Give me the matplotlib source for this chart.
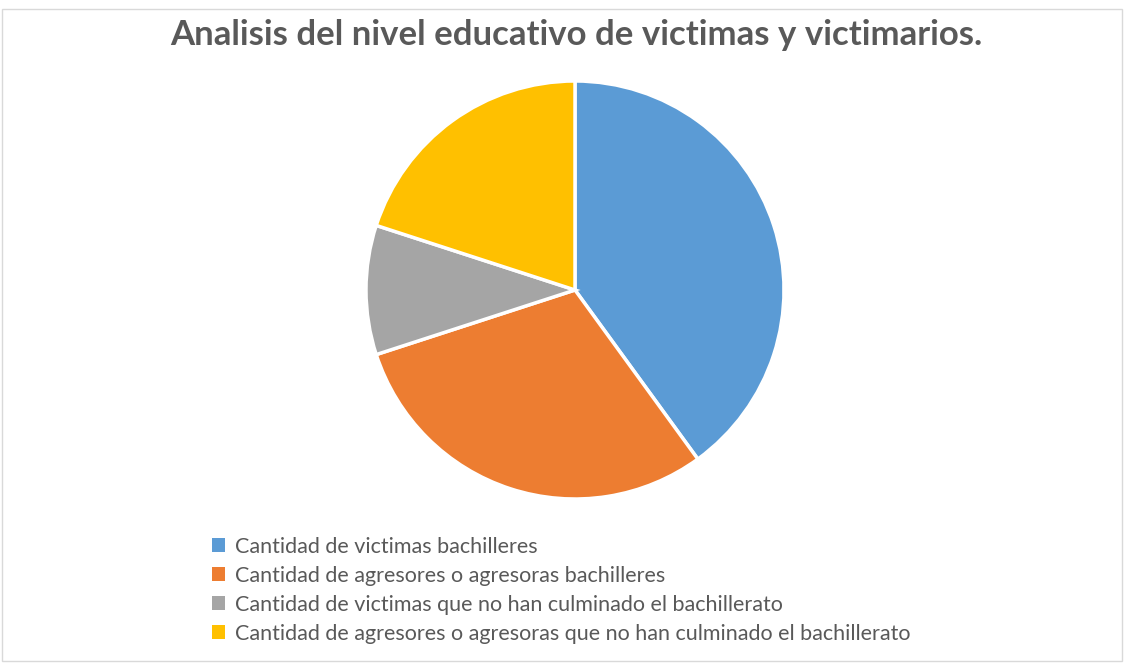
import matplotlib
matplotlib.use('Agg')
import matplotlib.pyplot as plt
from matplotlib.patches import Rectangle

categories = [
    'Cantidad de victimas bachilleres',
    'Cantidad de agresores o agresoras bachilleres',
    'Cantidad de victimas que no han culminado el bachillerato',
    'Cantidad de agresores o agresoras que no han culminado el bachillerato',
]
values = [40, 30, 10, 20]
colors = ['#5B9BD5', '#ED7D31', '#A5A5A5', '#FFC000']

plt.rcParams['font.family'] = ['Lato', 'DejaVu Sans']

W, H = 1130, 665
fig = plt.figure(figsize=(W / 100, H / 100), dpi=100)

# light frame of the chart area
fig.patches.append(Rectangle((2 / W, 4 / H), 1120 / W, 652 / H, transform=fig.transFigure,
                             fill=False, edgecolor='#d9d9d9', linewidth=1))

cx, cy, r = 575, 290, 209
ax = fig.add_axes([(cx - r) / W, 1 - (cy + r) / H, 2 * r / W, 2 * r / H])
ax.pie(values, colors=colors, startangle=90, counterclock=False,
       wedgeprops=dict(edgecolor='white', linewidth=2.5))
ax.set_xlim(-1, 1)
ax.set_ylim(-1, 1)
ax.set_aspect('auto')
ax.axis('off')

fig.text(576 / W, 1 - 35 / H, 'Analisis del nivel educativo de victimas y victimarios.',
         ha='center', va='center', fontsize=25, fontweight='bold', color='#595959')

handles = [Rectangle((0, 0), 1, 1, facecolor=c) for c in colors]
fig.legend(handles, categories, loc='upper left', bbox_to_anchor=(203 / W, 1 - 528 / H),
           frameon=False, fontsize=15.5, labelcolor='#595959', handlelength=0.6,
           handleheight=0.6, handletextpad=0.5, labelspacing=0.42, borderaxespad=0)

fig.savefig('out.png', dpi=100, facecolor='white')
